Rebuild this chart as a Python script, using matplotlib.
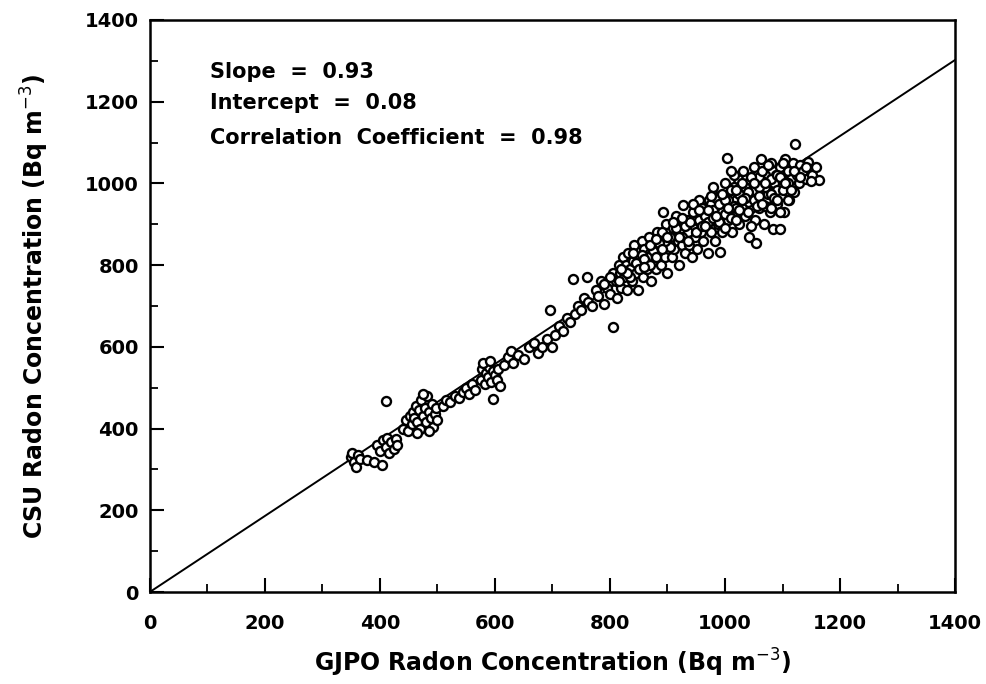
import numpy as np
import matplotlib.pyplot as plt

# Readings of the scatter (GJPO on x, CSU on y), Bq m^-3
gjpo = [350, 352, 355, 358, 362, 365, 378, 390, 403,
        395, 400, 405, 410, 412, 415, 420, 425, 428, 430, 410,
        440, 445, 448, 452, 455, 458, 460, 462, 465, 468, 470, 472, 475, 478, 480, 482, 485, 488,
        490, 492, 495, 498, 500, 465, 485, 475,
        510, 515, 522, 530, 538, 545, 550, 555, 560, 565,
        575, 578, 582, 585, 588, 590, 594, 597, 600, 604, 606, 609, 597, 580, 592,
        615, 622, 628, 632, 640, 650, 660, 668, 675, 682, 690, 696, 700,
        705, 712, 718, 725, 730, 736, 740, 745, 750, 755, 760, 762, 768, 775, 780, 785, 790, 795,
        800, 805, 805,
        810, 812, 815, 818, 820, 822, 825, 828, 830, 832, 835, 838, 840, 842, 845, 848, 850, 852,
        855, 858, 860, 862, 865, 868, 870, 872, 875, 878, 880, 882, 885, 888, 890, 892, 895, 898,
        900, 900,
        905, 908, 910, 912, 915, 918, 920, 922, 925, 927, 928, 930, 932, 935, 938, 940, 942, 945,
        948, 950, 952, 955, 958, 960, 962, 965, 968, 970, 972, 975, 978, 980, 982, 985, 988, 990,
        991, 993, 995, 998, 1000, 1003, 1005, 1008, 1010, 1012, 1015, 1018, 1020, 1022, 1025, 1028,
        1030, 1032, 1035, 1038, 1040, 1042, 1045, 1048, 1050, 1052, 1054, 1055, 1058, 1060, 1062,
        1065, 1068, 1070, 1072, 1075, 1078, 1080, 1083, 1085, 1088, 1090, 1092, 1095, 1096, 1098,
        1100, 1103, 1105, 1108, 1110, 1112, 1115, 1118, 1120, 1122, 1125, 1128, 1130, 1135, 1140,
        1144, 1148, 1152, 1158, 1163,
        955, 965, 975, 985, 995, 1005, 1015, 1025, 1035, 1045, 1055, 1065, 1075, 1085,
        960, 970, 980, 990, 1000, 1010, 1020, 1030, 1040, 1050, 1060, 1070, 1080, 1090,
        945, 935, 925, 915, 905, 895, 885, 875, 865, 855, 845, 835, 825, 815,
        920, 930, 940, 950, 960, 970, 980, 990, 1000, 1010, 1020, 1030, 1040, 1050, 1060, 1070,
        1080, 1090, 1100, 1110, 1120, 1130, 1140, 1150,
        925, 935, 945, 955, 965, 975, 985, 995, 1005, 1015, 1025, 1035, 1045, 1055, 1065, 1075,
        1085, 1095, 1105, 1115,
        850, 860, 870, 880, 890, 900, 910, 830, 840, 820, 800, 790, 870, 880, 890, 860,
        1000, 1010, 1020, 1030, 1040, 1050, 1060, 1070, 1080, 1090, 1100, 1110, 1095, 1065, 1045]

csu = [330, 340, 318, 305, 335, 325, 322, 318, 311,
       360, 345, 372, 355, 378, 340, 366, 350, 375, 360, 467,
       400, 420, 395, 430, 410, 440, 425, 455, 415, 445, 400, 470, 430, 450, 415, 480, 440, 425,
       460, 405, 435, 450, 420, 390, 395, 485,
       455, 470, 465, 480, 475, 490, 500, 485, 510, 495,
       520, 545, 510, 535, 525, 550, 515, 540, 530, 520, 545, 505, 472, 560, 565,
       555, 575, 590, 560, 580, 570, 600, 610, 585, 600, 620, 690, 600,
       630, 650, 640, 670, 660, 766, 680, 700, 690, 720, 771, 710, 700, 740, 725, 760, 705, 745,
       730, 649, 780,
       760, 720, 800, 780, 745, 820, 770, 800, 740, 830, 790, 760, 810, 850, 780, 740, 820, 800,
       860, 770, 840, 810, 790, 870, 830, 760, 810, 850, 790, 880, 830, 800, 860, 930, 820, 900,
       850, 780,
       870, 820, 890, 840, 920, 860, 800, 880, 850, 947, 900, 830, 870, 910, 850, 890, 820, 930,
       870, 900, 840, 960, 880, 920, 860, 940, 900, 830, 960, 880, 920, 990, 860, 940, 900, 970,
       832, 920, 880, 950, 1000, 1062, 910, 970, 940, 880, 990, 920, 960, 1010, 900, 950,
       980, 1030, 920, 960, 1000, 870, 940, 990, 1040, 910, 854, 970, 1010, 940, 1060,
       980, 900, 1020, 960, 1000, 930, 1050, 888, 980, 1020, 950, 1000, 1040, 888, 970,
       1010, 930, 1060, 990, 1030, 960, 1010, 1050, 980, 1096, 1020, 1000, 1045, 1030, 1010,
       1052, 1035, 1020, 1040, 1008,
       910, 920, 950, 965, 930, 960, 945, 975, 990, 965, 995, 1005, 975, 1000,
       940, 905, 935, 950, 925, 985, 940, 1000, 955, 985, 1015, 990, 1010, 985,
       890, 880, 870, 890, 845, 860, 855, 835, 820, 825, 805, 770, 785, 760,
       870, 895, 905, 880, 895, 935, 915, 905, 960, 915, 985, 940, 980, 960, 990, 945,
       975, 1020, 985, 1000, 1030, 1015, 1040, 1005,
       915, 860, 950, 935, 895, 970, 920, 975, 940, 1020, 935, 965, 1015, 945, 1030, 1045,
       965, 1015, 1000, 985,
       790, 815, 850, 820, 880, 870, 905, 780, 830, 790, 770, 755, 800, 865, 840, 795,
       890, 1030, 910, 960, 930, 1000, 970, 1000, 940, 960, 1050, 960, 930, 950, 895]

slope = 0.93
intercept = 0.08
corr = 0.98

x_ticks = [0, 200, 400, 600, 800, 1000, 1200, 1400]
y_ticks = [0, 200, 400, 600, 800, 1000, 1200, 1400]

fig = plt.figure(figsize=(9.86, 6.84), dpi=100)
ax = fig.add_axes([0.152, 0.1345, 0.8166, 0.8363])

ax.scatter(gjpo, csu, s=42, facecolors='white', edgecolors='black', linewidths=1.7, zorder=3)

fit_x = np.array([0, 1400])
ax.plot(fit_x, slope * fit_x + intercept, color='black', linewidth=1.4, zorder=2)

ax.set_xlim(0, 1400)
ax.set_ylim(0, 1400)
ax.set_xticks(x_ticks)
ax.set_yticks(y_ticks)
ax.set_xticks(np.arange(100, 1400, 200), minor=True)
ax.set_yticks(np.arange(100, 1400, 200), minor=True)
ax.tick_params(which='major', direction='in', length=10, width=1.5, labelsize=14)
ax.tick_params(axis='x', which='major', pad=16)
ax.tick_params(axis='y', which='major', pad=8)
ax.tick_params(which='minor', direction='in', length=6, width=1.3)
for lab in ax.get_xticklabels() + ax.get_yticklabels():
    lab.set_fontweight('bold')
for s in ax.spines.values():
    s.set_linewidth(1.8)

ax.set_xlabel('GJPO Radon Concentration (Bq m$^{-3}$)', fontsize=17, fontweight='bold', labelpad=10)
ax.set_ylabel('CSU Radon Concentration (Bq m$^{-3}$)', fontsize=17, fontweight='bold', labelpad=24)

ax.text(0.075, 0.909, 'Slope  =  %.2f' % slope, transform=ax.transAxes,
        fontsize=15, fontweight='bold', va='center')
ax.text(0.075, 0.855, 'Intercept  =  %.2f' % intercept, transform=ax.transAxes,
        fontsize=15, fontweight='bold', va='center')
ax.text(0.075, 0.794, 'Correlation  Coefficient  =  %.2f' % corr, transform=ax.transAxes,
        fontsize=15, fontweight='bold', va='center')

fig.savefig('out.png', dpi=100)
